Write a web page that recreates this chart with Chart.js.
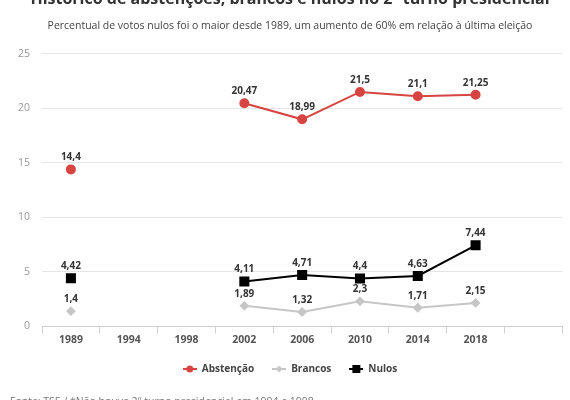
<!DOCTYPE html>
<html>
<head>
<meta charset="utf-8">
<script src="https://cdn.jsdelivr.net/npm/chart.js@4"></script>
<style>
    body { margin:0; width:570px; height:400px; overflow:hidden; background:#fff; position:relative; }
    #wrap { position:absolute; left:0; top:-20px; width:570px; height:440px; }
    #fonte { position:absolute; left:10px; top:393.5px; font:10.5px "Open Sans", sans-serif; color:#777; white-space:nowrap; }
</style>
</head>
<body>
<div id="wrap"><canvas id="grafico"></canvas></div>
<div id="fonte">Fonte: TSE / *Não houve 2º turno presidencial em 1994 e 1998</div>

<script>
// DADOS
const anos = ['1989', '1994', '1998', '2002', '2006', '2010', '2014', '2018', ''];
const abstencao = [14.4, null, null, 20.47, 18.99, 21.5, 21.1, 21.25, null];
const brancos = [1.4, null, null, 1.89, 1.32, 2.3, 1.71, 2.15, null];
const nulos = [4.42, null, null, 4.11, 4.71, 4.4, 4.63, 7.44, null];
const yTicks = [0, 5, 10, 15, 20, 25];

const fonte = '"Open Sans", sans-serif';

// ICONE DA LEGENDA (linha + marcador)
function icone(cor, tipo){
    const c = document.createElement('canvas');
    c.width = 14; c.height = 10;
    const g = c.getContext('2d');
    g.strokeStyle = cor; g.fillStyle = cor; g.lineWidth = 2;
    g.beginPath(); g.moveTo(0, 5); g.lineTo(14, 5); g.stroke();
    g.beginPath();
    if(tipo == 'circle'){ g.arc(7, 5, 3.5, 0, Math.PI*2); }
    else if(tipo == 'rect'){ g.rect(3, 1, 8, 8); }
    else { g.moveTo(7, 1.5); g.lineTo(10.5, 5); g.lineTo(7, 8.5); g.lineTo(3.5, 5); g.closePath(); }
    g.fill();
    return c;
}

// ROTULOS DOS PONTOS
const rotulos = {
    id: 'rotulos',
    afterDatasetsDraw(chart){
        const ctx = chart.ctx;
        ctx.save();
        ctx.font = 'bold 10px ' + fonte;
        ctx.fillStyle = '#333';
        ctx.textAlign = 'center';
        ctx.textBaseline = 'bottom';
        chart.data.datasets.forEach(function(ds, i){
            chart.getDatasetMeta(i).data.forEach(function(p, j){
                const v = ds.data[j];
                if(v === null || v === undefined) return;
                ctx.fillText(String(v).replace('.', ','), p.x, p.y - 7);
            });
        });
        ctx.restore();
    }
};

const ctx = document.getElementById('grafico').getContext('2d');
new Chart(ctx, {
    type: 'line',
    data: {
        labels: anos,
        datasets: [{
            label: 'Abstenção',
            data: abstencao,
            borderColor: '#d64541',
            backgroundColor: '#d64541',
            borderWidth: 2,
            pointStyle: 'circle',
            pointRadius: 4,
            pointHoverRadius: 4,
            legendIcon: icone('#d64541', 'circle')
        },{
            label: 'Brancos',
            data: brancos,
            borderColor: '#c6c6c6',
            backgroundColor: '#c6c6c6',
            borderWidth: 2,
            pointStyle: 'rectRot',
            pointRadius: 3.5,
            pointHoverRadius: 3.5,
            legendIcon: icone('#c6c6c6', 'diamond')
        },{
            label: 'Nulos',
            data: nulos,
            borderColor: '#000',
            backgroundColor: '#000',
            borderWidth: 2,
            pointStyle: 'rect',
            pointRadius: 5.7,
            pointHoverRadius: 5.7,
            legendIcon: icone('#000', 'rect')
        }]
    },
    options: {
        responsive: true,
        maintainAspectRatio: false,
        animation: false,
        spanGaps: false,
        layout: { padding: { left: 14, right: 4, top: 0, bottom: 36 } },
        plugins: {
            title: {
                display: true,
                text: 'Histórico de abstenções, brancos e nulos no 2º turno presidencial',
                color: '#333',
                font: { family: fonte, size: 16, weight: 'bold', lineHeight: 1.2 },
                padding: { top: 10, bottom: 0 }
            },
            subtitle: {
                display: true,
                text: 'Percentual de votos nulos foi o maior desde 1989, um aumento de 60% em relação à última eleição',
                color: '#444',
                font: { family: fonte, size: 10.5, lineHeight: 1.2 },
                padding: { top: 11, bottom: 21 }
            },
            legend: {
                position: 'bottom',
                labels: {
                    usePointStyle: true,
                    pointStyleWidth: 14,
                    boxHeight: 10,
                    padding: 18,
                    color: '#444',
                    font: { family: fonte, size: 10, weight: 'bold' },
                    generateLabels(chart){
                        return chart.data.datasets.map(function(ds, i){
                            return {
                                text: ds.label,
                                pointStyle: ds.legendIcon,
                                fillStyle: ds.borderColor,
                                strokeStyle: ds.borderColor,
                                lineWidth: 0,
                                fontColor: '#444',
                                datasetIndex: i,
                                hidden: false
                            };
                        });
                    }
                }
            },
            tooltip: { enabled: false }
        },
        scales: {
            x: {
                offset: true,
                grid: {
                    offset: true,
                    drawOnChartArea: false,
                    drawTicks: true,
                    tickLength: 7,
                    color: '#cfcfcf'
                },
                border: { color: '#cfcfcf' },
                ticks: {
                    padding: 0,
                    color: '#555',
                    font: { family: fonte, size: 10.5, weight: 'bold' },
                    maxRotation: 0,
                    autoSkip: false
                }
            },
            y: {
                min: 0,
                max: 25,
                afterBuildTicks(scale){
                    scale.ticks = yTicks.map(function(v){ return { value: v }; });
                },
                afterFit(scale){ scale.width = 28; },
                grid: { color: '#e6e6e6', drawTicks: false },
                border: { display: false },
                ticks: {
                    padding: 12,
                    color: '#999',
                    font: { family: fonte, size: 10.5 }
                }
            }
        }
    },
    plugins: [rotulos]
});
</script>
</body>
</html>
